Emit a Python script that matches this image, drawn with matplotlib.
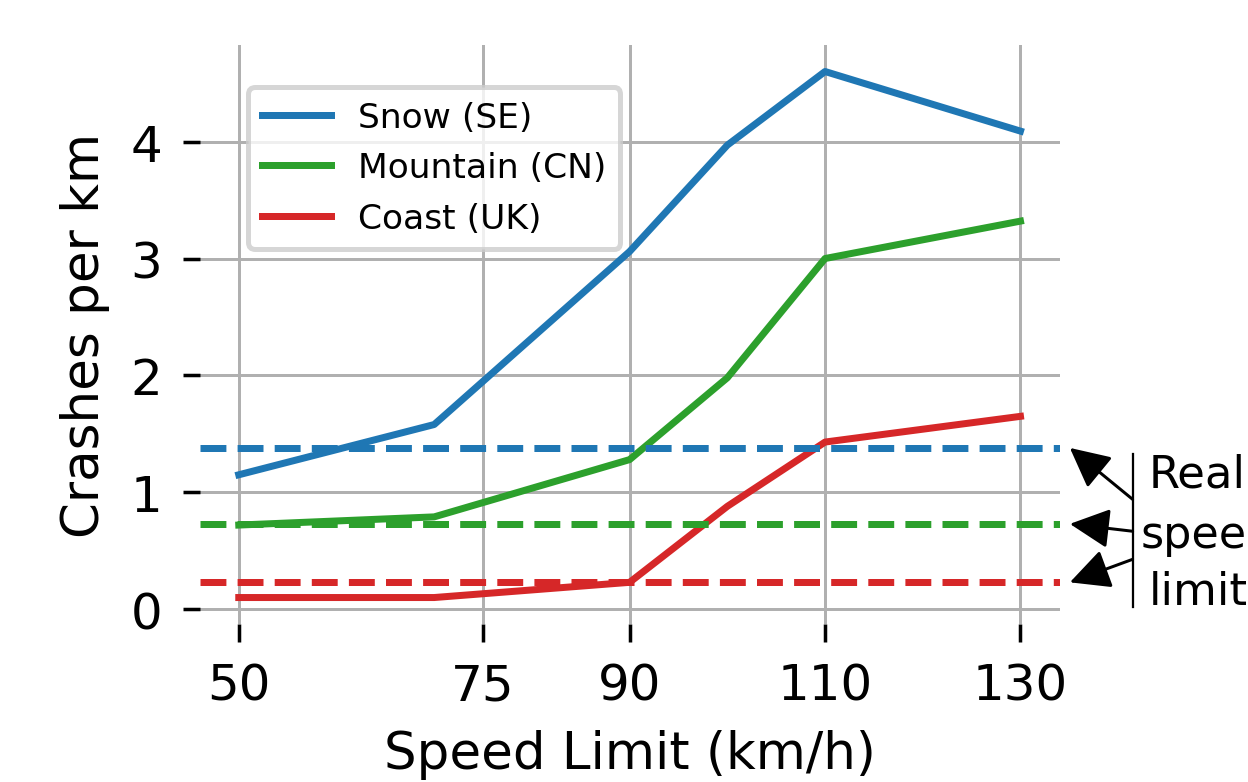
import matplotlib
matplotlib.use('Agg')
import matplotlib.pyplot as plt

speed_limits = [50, 70, 90, 100, 110, 130]
snow_se = [1.15, 1.58, 3.06, 3.97, 4.60, 4.09]
mountain_cn = [0.72, 0.79, 1.28, 1.98, 3.00, 3.32]
coast_uk = [0.10, 0.10, 0.23, 0.88, 1.43, 1.65]

# real speed limit levels (dashed)
real_snow = 1.38
real_mountain = 0.73
real_coast = 0.23

xticks = [50, 75, 90, 110, 130]
yticks = [0, 1, 2, 3, 4]

fig = plt.figure(figsize=(1248 / 360, 783 / 360), dpi=360)
ax = fig.add_axes([0.160, 0.202, 0.689, 0.739])

ax.grid(True, color='#b0b0b0', linewidth=0.6)
ax.set_axisbelow(True)
for s in ax.spines.values():
    s.set_visible(False)

ax.plot(speed_limits, snow_se, color='#1f77b4', lw=1.4, label='Snow (SE)')
ax.plot(speed_limits, mountain_cn, color='#2ca02c', lw=1.4, label='Mountain (CN)')
ax.plot(speed_limits, coast_uk, color='#d62728', lw=1.4, label='Coast (UK)')

ax.axhline(real_snow, color='#1f77b4', ls='--', lw=1.4)
ax.axhline(real_mountain, color='#2ca02c', ls='--', lw=1.4)
ax.axhline(real_coast, color='#d62728', ls='--', lw=1.4)

ax.set_xticks(xticks)
ax.set_yticks(yticks)
ax.tick_params(labelsize=10, length=3.5, width=0.7, pad=4, color='black')
ax.set_xlabel('Speed Limit (km/h)', fontsize=10.3)
ax.set_ylabel('Crashes per km', fontsize=10.3)

ax.legend(loc='upper left', bbox_to_anchor=(0.056, 0.927), borderaxespad=0,
          fontsize=6.9)

# bracket + arrows pointing at the dashed lines
bx = 1.085
ax.plot([bx, bx], [0.017, 1.325], color='black', lw=0.45, clip_on=False,
        transform=ax.get_yaxis_transform(), scalex=False, scaley=False)
for level, tail in [(real_snow, 0.94), (real_mountain, 0.667), (real_coast, 0.427)]:
    ax.annotate('', xy=(1.012, level), xycoords=('axes fraction', 'data'),
                xytext=(bx, tail), textcoords=('axes fraction', 'data'),
                arrowprops=dict(arrowstyle='-|>', color='black', lw=0.6,
                                mutation_scale=17, shrinkA=0, shrinkB=0),
                annotation_clip=False)

fig.text(0.9207, 0.378, 'Real', fontsize=9, va='baseline', ha='left')
fig.text(0.914, 0.300, 'speed', fontsize=8.9, va='baseline', ha='left')
fig.text(0.9207, 0.227, 'limit', fontsize=9, va='baseline', ha='left')

fig.savefig('out.png', dpi=360)
